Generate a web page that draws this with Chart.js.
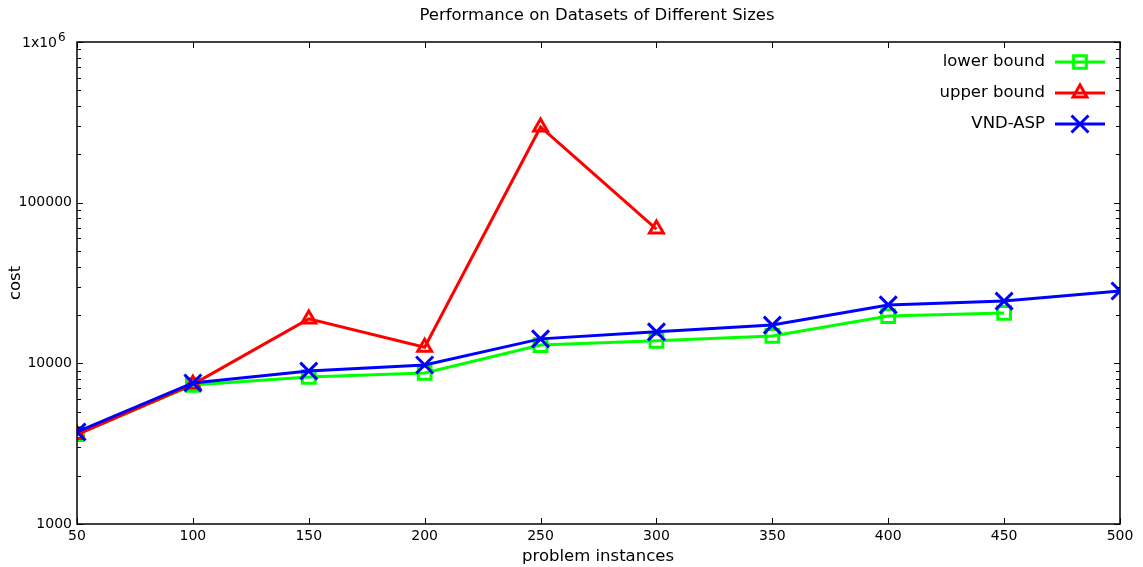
<!DOCTYPE html>
<html>
<head>
<meta charset="utf-8">
<script src="https://cdn.jsdelivr.net/npm/chart.js@4.4.1/dist/chart.umd.min.js"></script>
<style>
  html, body { margin: 0; padding: 0; background: #fff; }
  #wrap { width: 1143px; height: 567px; }
</style>
</head>
<body>
<div id="wrap"><canvas id="perfChart"></canvas></div>
<script>
// problem sizes on the x axis
const problemSizes = [50, 100, 150, 200, 250, 300, 350, 400, 450, 500];
// cost per series (null = no value)
const lowerBound = [3630, 7330, 8220, 8710, 13000, 13800, 14800, 19700, 20600, null];
const upperBound = [3600, 7400, 18900, 12600, 296000, 68500, null, null, null, null];
const vndAsp = [3740, 7550, 8950, 9770, 14200, 15700, 17300, 23100, 24400, 28200];
const yMajorTicks = [1000, 10000, 100000, 1000000];
const yTickLabels = ['1000', '10000', '100000', ''];  // top one drawn as 1x10^6 below

const FONT = "'DejaVu Sans', sans-serif";

function toPoints(values) {
  return problemSizes.map((x, i) => ({ x, y: values[i] }));
}

function yAllTicks() {
  const list = [];
  for (let d = 1000; d < 1000000; d *= 10) {
    for (let m = 1; m < 10; m++) list.push(d * m);
  }
  list.push(1000000);
  return list;
}

function makeSeries(label, values, color, pointStyle, radius, order) {
  return {
    label,
    data: toPoints(values),
    borderColor: color,
    backgroundColor: 'rgba(0,0,0,0)',
    borderWidth: 3,
    pointStyle,
    pointRadius: radius,
    pointHoverRadius: radius,
    pointBorderColor: color,
    pointBackgroundColor: 'rgba(0,0,0,0)',
    pointBorderWidth: 3,
    tension: 0,
    spanGaps: false,
    order
  };
}

// frame, inward ticks, titles and legend in gnuplot style
const gnuplotFrame = {
  id: 'gnuplotFrame',
  afterDatasetsDraw(chart) {
    const { ctx, chartArea: a, scales } = chart;
    ctx.save();
    ctx.strokeStyle = '#000';
    ctx.lineWidth = 1;
    ctx.beginPath();
    problemSizes.forEach(v => {
      const px = Math.round(scales.x.getPixelForValue(v)) + 0.5;
      ctx.moveTo(px, a.bottom); ctx.lineTo(px, a.bottom - 6);
      ctx.moveTo(px, a.top); ctx.lineTo(px, a.top + 6);
    });
    yAllTicks().forEach(v => {
      const py = Math.round(scales.y.getPixelForValue(v)) + 0.5;
      const len = yMajorTicks.includes(v) ? 6 : 4;
      ctx.moveTo(a.left, py); ctx.lineTo(a.left + len, py);
      ctx.moveTo(a.right, py); ctx.lineTo(a.right - len, py);
    });
    ctx.stroke();
    ctx.lineWidth = 1.5;
    ctx.strokeRect(a.left, a.top, a.right - a.left, a.bottom - a.top);

    ctx.fillStyle = '#000';
    // top y label 1x10^6
    const topY = scales.y.getPixelForValue(1000000);
    ctx.textBaseline = 'alphabetic';
    ctx.textAlign = 'right';
    ctx.font = `14px ${FONT}`;
    ctx.fillText('1x10', 57, topY + 5);
    ctx.textAlign = 'left';
    ctx.font = `12px ${FONT}`;
    ctx.fillText('6', 58, topY - 1);

    ctx.textAlign = 'center';
    ctx.textBaseline = 'middle';
    ctx.font = `16.5px ${FONT}`;
    ctx.fillText('Performance on Datasets of Different Sizes', 597, 16);
    ctx.fillText('problem instances', 598, 557);
    ctx.save();
    ctx.translate(16, 283);
    ctx.rotate(-Math.PI / 2);
    ctx.fillText('cost', 0, 0);
    ctx.restore();

    // legend
    const rows = [chart.data.datasets[0], chart.data.datasets[1], chart.data.datasets[2]];
    rows.forEach((ds, i) => {
      const y = 62 + i * 31;
      ctx.fillStyle = '#000';
      ctx.textAlign = 'right';
      ctx.font = `16.5px ${FONT}`;
      ctx.fillText(ds.label, 1045, y);
      ctx.strokeStyle = ds.borderColor;
      ctx.lineWidth = 3;
      ctx.beginPath();
      ctx.moveTo(1055, y); ctx.lineTo(1105, y);
      ctx.stroke();
      ctx.fillStyle = 'rgba(0,0,0,0)';
      Chart.helpers.drawPoint(ctx, {
        pointStyle: ds.pointStyle, radius: ds.pointRadius, borderWidth: 3, rotation: 0
      }, 1080, y);
    });
    ctx.restore();
  }
};

const chart = new Chart(document.getElementById('perfChart'), {
  type: 'line',
  data: {
    datasets: [
      makeSeries('lower bound', lowerBound, '#00ff00', 'rect', 9, 2),
      makeSeries('upper bound', upperBound, '#ff0000', 'triangle', 8, 1),
      makeSeries('VND-ASP', vndAsp, '#0000ff', 'crossRot', 12, 0)
    ]
  },
  options: {
    responsive: true,
    maintainAspectRatio: false,
    animation: false,
    events: [],
    layout: { padding: { top: 42, right: 23, left: 0, bottom: 0 } },
    plugins: { legend: { display: false }, title: { display: false }, tooltip: { enabled: false } },
    scales: {
      x: {
        type: 'linear',
        min: 50,
        max: 500,
        afterFit: scale => { scale.height = 43; },
        afterBuildTicks: scale => { scale.ticks = problemSizes.map(v => ({ value: v })); },
        grid: { display: false, drawTicks: false },
        border: { display: false },
        ticks: { color: '#000', font: { family: FONT, size: 14 }, padding: 4, maxRotation: 0, autoSkip: false }
      },
      y: {
        type: 'logarithmic',
        min: 1000,
        max: 1000000,
        afterFit: scale => { scale.width = 77; },
        afterBuildTicks: scale => { scale.ticks = yAllTicks().map(v => ({ value: v })); },
        grid: { display: false, drawTicks: false },
        border: { display: false },
        ticks: {
          color: '#000',
          font: { family: FONT, size: 14 },
          padding: 5,
          autoSkip: false,
          callback: v => {
            const idx = yMajorTicks.indexOf(v);
            return idx >= 0 ? yTickLabels[idx] : '';
          }
        }
      }
    }
  },
  plugins: [gnuplotFrame]
});
</script>
</body>
</html>
